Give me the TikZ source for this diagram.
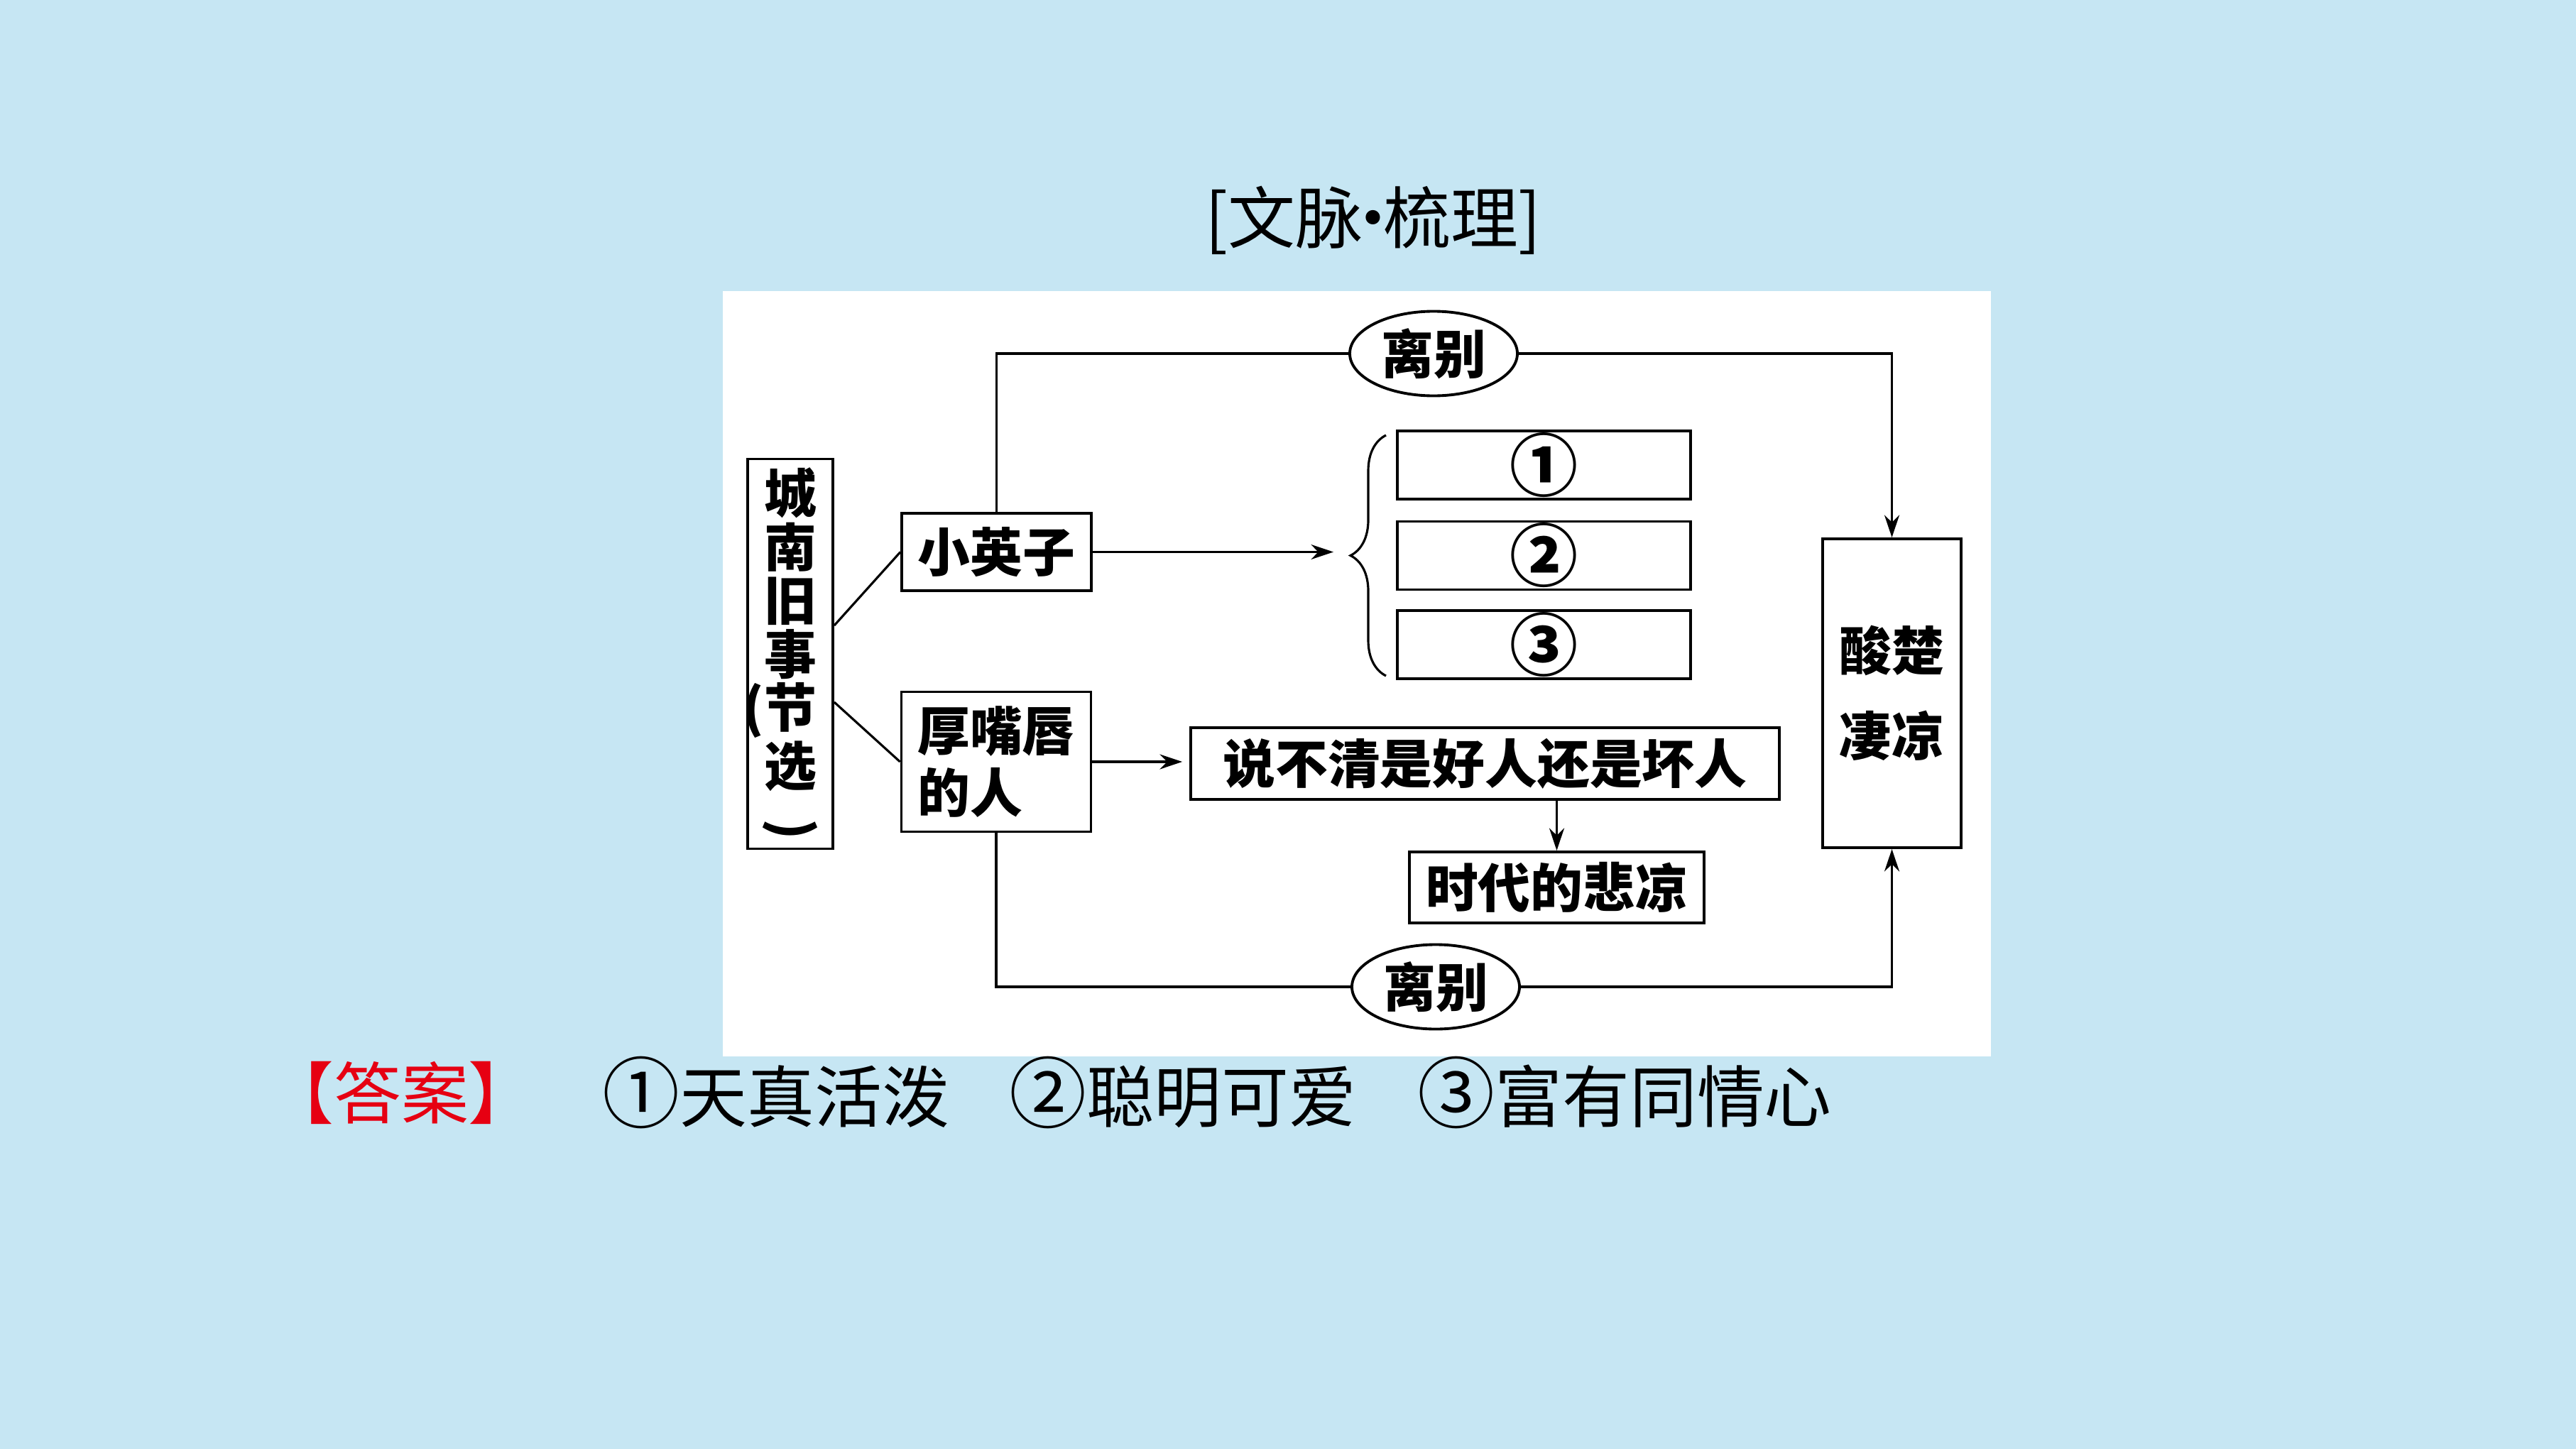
\documentclass[tikz,border=0pt]{standalone}
\usepackage{fontspec}
\setmainfont{Noto Sans CJK SC}
\usepackage{tikz}
\usetikzlibrary{arrows.meta}
\usetikzlibrary{shapes.geometric, decorations.pathreplacing}
\definecolor{bgBlue}{RGB}{198,230,243}
\definecolor{ansRed}{RGB}{230,0,18}
\newcommand{\bigNum}[2][1.3]{\scalebox{#1}{#2}}

\begin{document}
\begin{tikzpicture}[inner sep=0pt, line width=0.9pt]
            \useasboundingbox (0,0) rectangle (36.28,-20.41);
            \fill[bgBlue] (0,0) rectangle (36.28,-20.41);
            \fill[white] (10.18,-4.10) rectangle (28.04,-14.88);

            \tikzstyle{myBox}=[draw, line width=1.1pt, font=\fontsize{21}{25}\selectfont\bfseries, align=center];
            \tikzstyle{numBox}=[myBox, minimum width=4.13cm, minimum height=0.96cm];
            \tikzstyle{myEll}=[myBox, ellipse, minimum width=2.36cm, minimum height=1.19cm];
            \tikzstyle{myArr}=[-{Stealth[length=9pt,width=6pt]}];
            \tikzstyle{big}=[font=\fontsize{27}{32}\selectfont];

            \node[big] (title) at (19.34,-3.10) {[文脉\makebox[0.3em]{·}梳理]};

            \node[myBox, minimum width=1.20cm, minimum height=5.49cm, font=\fontsize{21}{21.5}\selectfont\bfseries] (city) at (11.13,-9.21)
                {城\\南\\旧\\事\\\llap{(}节\\选\\[-8pt]\rotatebox{-90}{)}};
            \node[myBox, minimum width=2.67cm, minimum height=1.09cm] (xyz) at (14.035,-7.775) {小英子};
            \node[myBox, minimum width=2.67cm, minimum height=1.97cm, align=left] (hzc) at (14.03,-10.73) {厚嘴唇\\的人};

            \node[numBox] (n1) at (21.745,-6.55) {\bigNum{①}};
            \node[numBox] (n2) at (21.745,-7.825) {\bigNum{②}};
            \node[numBox] (n3) at (21.745,-9.08) {\bigNum{③}};
            \coordinate (tip) at (18.78,-7.78);
            \draw[decorate, decoration={brace, amplitude=0.5cm}] (19.52,-9.52) -- (19.52,-6.13);

            \node[myBox, minimum width=8.29cm, minimum height=1.01cm] (sbq) at (20.915,-10.755) {说不清是好人还是坏人};
            \node[myBox, minimum width=4.15cm, minimum height=1.00cm] (sdbl) at (21.925,-12.50) {时代的悲凉};
            \node[myBox, minimum width=1.95cm, minimum height=4.35cm, font=\fontsize{21}{34}\selectfont\bfseries] (scql) at (26.645,-9.765) {酸楚\\凄凉};

            \node[myEll, fill=white] (lb1) at (20.19,-4.98) {离别};
            \node[myEll, fill=white] (lb2) at (20.22,-13.90) {离别};

            \draw ([yshift=0.40cm]city.east) -- (xyz.west);
            \draw ([yshift=-0.68cm]city.east) -- (hzc.west);
            \draw[myArr] (xyz.east) -- (xyz.east -| tip);
            \draw[myArr, shorten >=0.1cm] (hzc.east) -- (hzc.east -| sbq.west);
            \draw[myArr] (sbq.south -| sdbl.north) -- (sdbl.north);
            \draw (xyz.north) |- (lb1.west);
            \draw[myArr] (lb1.east) -| (scql.north);
            \draw (hzc.south) |- (lb2.west);
            \draw[myArr] (lb2.east) -| (scql.south);

            \node[big, text=ansRed] (ansTag) at (5.65,-15.39) {【答案】};
            \node[big] (ans1) at (10.93,-15.39) {\bigNum[1.15]{①}天真活泼};
            \node[big] (ans2) at (16.66,-15.39) {\bigNum[1.15]{②}聪明可爱};
            \node[big] (ans3) at (22.88,-15.39) {\bigNum[1.15]{③}富有同情心};
\end{tikzpicture}
\end{document}
